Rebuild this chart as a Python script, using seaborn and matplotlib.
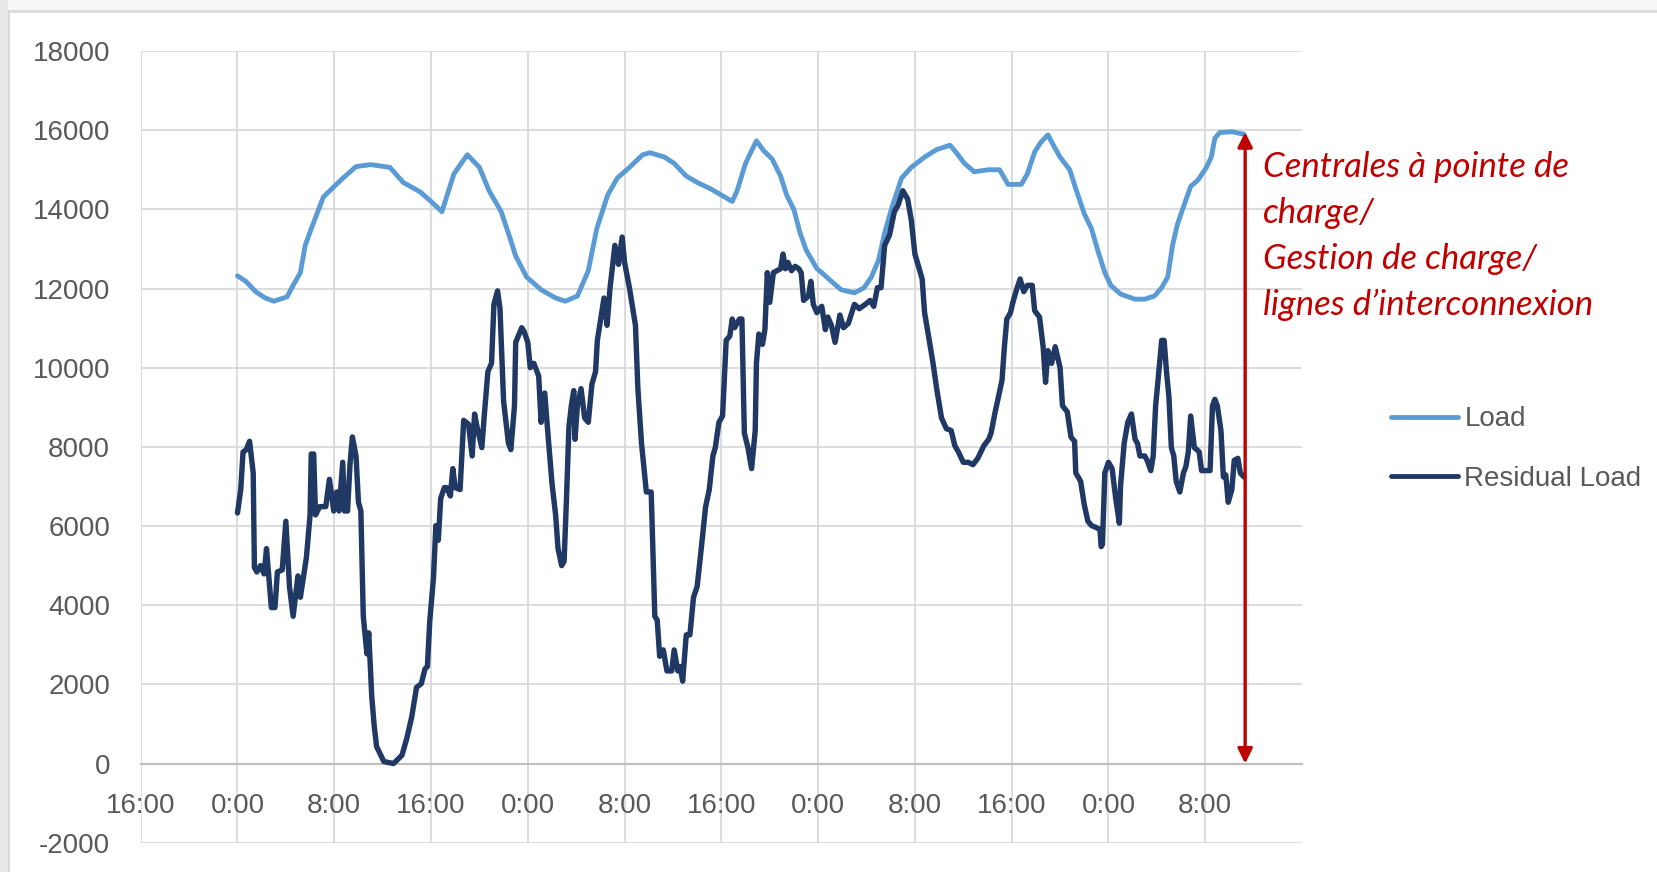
import numpy as np
import pandas as pd
import matplotlib
matplotlib.use("Agg")
import matplotlib.pyplot as plt
from matplotlib.patches import Rectangle
from matplotlib.lines import Line2D
import seaborn as sns

# ---------------- data ----------------
# hours counted from the first midnight (0:00) shown on the axis
load_hours = [0, 0.7, 1.5, 2.3, 3.0, 4.1, 4.6, 5.2, 5.6, 6.1, 6.7, 7.1, 8.0, 8.8, 9.8, 11.0,
              12.6, 13.7, 15.1, 16.0, 16.9, 17.9, 19.0, 20.0, 20.8, 21.8, 22.5, 23.0, 23.9,
              25.1, 26.3, 27.1, 28.1, 29.0, 29.7, 30.6, 31.4, 32.4, 33.5, 34.1, 35.3, 36.1,
              37.1, 38.0, 39.1, 40.0, 40.9, 41.3, 42.0, 42.5, 42.9, 43.5, 44.2, 44.9, 45.4,
              46.0, 46.5, 47.0, 47.9, 48.3, 49.1, 49.9, 51.0, 51.8, 52.4, 53.0, 53.5, 54.1,
              54.9, 55.7, 56.8, 57.8, 58.9, 59.3, 60.1, 60.9, 62.1, 63.0, 63.7, 64.8, 65.3,
              65.9, 66.4, 67.0, 67.5, 68.0, 68.8, 69.3, 70.0, 70.6, 71.1, 71.7, 72.2, 73.0,
              74.2, 75.0, 75.8, 76.4, 76.9, 77.3, 77.7, 78.3, 78.8, 79.4, 80.1, 80.5, 80.8,
              81.2, 82.2, 83.0, 83.2]
load_mw = [12320, 12180, 11920, 11760, 11680, 11790, 12080, 12400, 13090, 13510, 13990, 14310,
           14580, 14810, 15080, 15130, 15060, 14680, 14440, 14200, 13940, 14900, 15380, 15060,
           14470, 13940, 13300, 12820, 12290, 11970, 11760, 11680, 11810, 12450, 13510, 14360,
           14790, 15060, 15380, 15430, 15320, 15160, 14840, 14680, 14520, 14360, 14200, 14470,
           15160, 15480, 15730, 15480, 15270, 14840, 14360, 13990, 13410, 12980, 12500, 12400,
           12180, 11970, 11890, 12020, 12290, 12720, 13410, 14050, 14790, 15060, 15320, 15510,
           15620, 15480, 15160, 14950, 15000, 15000, 14630, 14630, 14900, 15450, 15690, 15880,
           15590, 15320, 15000, 14520, 13890, 13510, 12980, 12400, 12080, 11860, 11730, 11730,
           11810, 12020, 12290, 13090, 13620, 14150, 14580, 14740, 15060, 15320, 15800, 15940,
           15960, 15910, 15900]

resid_hours = [0, 0.27, 0.46, 0.73, 1.0, 1.3, 1.4, 1.6, 1.9, 2.2, 2.4, 2.8, 3.1, 3.3, 3.7, 4.0,
               4.3, 4.6, 5.0, 5.2, 5.7, 6.0, 6.1, 6.3, 6.45, 6.8, 7.3, 7.6, 7.96, 8.2, 8.4, 8.7,
               8.85, 9.1, 9.3, 9.5, 9.8, 10.0, 10.2, 10.4, 10.7, 10.85, 11.1, 11.3, 11.5, 12.1,
               12.9, 13.6, 14.0, 14.4, 14.8, 15.2, 15.5, 15.7, 15.9, 16.2, 16.4, 16.6, 16.8,
               17.1, 17.3, 17.6, 17.8, 18.0, 18.4, 18.7, 19.1, 19.4, 19.6, 19.8, 20.2, 20.4,
               20.7, 21.0, 21.2, 21.5, 21.7, 22.0, 22.4, 22.6, 22.9, 23.0, 23.5, 23.7, 24.0,
               24.2, 24.5, 24.9, 25.1, 25.4, 25.6, 26.0, 26.3, 26.5, 26.8, 27.0, 27.2, 27.4,
               27.6, 27.8, 27.9, 28.1, 28.4, 28.7, 29.0, 29.3, 29.6, 29.75, 30.0, 30.3, 30.55,
               30.8, 31.2, 31.5, 31.8, 32.0, 32.4, 32.9, 33.1, 33.4, 33.8, 34.2, 34.5, 34.7,
               34.9, 35.2, 35.5, 35.9, 36.1, 36.4, 36.6, 36.8, 37.1, 37.4, 37.7, 38.0, 38.3,
               38.7, 39.0, 39.3, 39.5, 39.8, 40.1, 40.4, 40.7, 40.9, 41.1, 41.5, 41.7, 41.9,
               42.2, 42.5, 42.8, 42.9, 43.1, 43.4, 43.6, 43.8, 44.0, 44.3, 44.6, 44.9, 45.1,
               45.3, 45.5, 45.8, 46.1, 46.4, 46.6, 46.8, 47.2, 47.4, 47.6, 47.9, 48.1, 48.3,
               48.6, 48.8, 49.1, 49.4, 49.8, 50.1, 50.5, 51.0, 51.4, 51.9, 52.3, 52.6, 52.9,
               53.2, 53.5, 53.9, 54.3, 54.6, 55.0, 55.4, 55.7, 56.0, 56.3, 56.6, 56.8, 57.1,
               57.5, 57.8, 58.2, 58.6, 59.0, 59.3, 59.6, 60.0, 60.4, 60.8, 61.2, 61.7, 62.1,
               62.3, 62.6, 62.9, 63.2, 63.4, 63.6, 63.9, 64.1, 64.4, 64.7, 65.0, 65.3, 65.7,
               65.9, 66.3, 66.6, 66.8, 67.0, 67.3, 67.6, 68.0, 68.2, 68.6, 68.9, 69.2, 69.3,
               69.7, 70.0, 70.3, 70.6, 71.0, 71.3, 71.4, 71.5, 71.7, 72.0, 72.3, 72.6, 72.9,
               73.0, 73.3, 73.6, 73.9, 74.2, 74.4, 74.6, 75.0, 75.2, 75.5, 75.7, 75.9, 76.1,
               76.4, 76.6, 76.8, 77.0, 77.2, 77.4, 77.6, 77.9, 78.2, 78.4, 78.6, 78.8, 79.1,
               79.3, 79.5, 79.7, 80.2, 80.4, 80.6, 80.8, 81.0, 81.3, 81.5, 81.7, 81.9, 82.2,
               82.4, 82.7, 82.9, 83.2]
resid_mw = [6330, 6920, 7870, 7930, 8140, 7340, 4950, 4840, 5000, 4790, 5430, 3940, 3940, 4840,
            4890, 6120, 4470, 3720, 4740, 4200, 5210, 6280, 7820, 7820, 6280, 6490, 6490, 7180,
            6380, 6860, 6380, 7610, 6380, 6380, 7550, 8250, 7770, 6600, 6380, 3720, 2770, 3300,
            1700, 960, 430, 50, 0, 210, 640, 1170, 1920, 2020, 2390, 2450, 3620, 4680, 6010,
            5640, 6700, 6970, 6970, 6760, 7450, 6970, 6920, 8670, 8570, 7770, 8830, 8510, 7980,
            8780, 9900, 10110, 11600, 11940, 11490, 9150, 8090, 7930, 9040, 10640, 11010, 10910,
            10640, 10000, 10110, 9790, 8620, 9360, 8570, 7080, 6280, 5430, 5000, 5110, 6700,
            8510, 9040, 9420, 8190, 9040, 9470, 8730, 8620, 9580, 9900, 10690, 11170, 11760,
            11070, 12020, 13090, 12610, 13300, 12660, 12020, 11070, 9470, 8090, 6860, 6860,
            3720, 3620, 2710, 2870, 2340, 2340, 2870, 2340, 2450, 2080, 3250, 3250, 4200, 4470,
            5320, 6490, 6920, 7770, 7980, 8620, 8780, 10690, 10800, 11230, 11010, 11230, 11230,
            8350, 7980, 7450, 8410, 10110, 10850, 10590, 10960, 12400, 11650, 12400, 12450,
            12500, 12870, 12500, 12660, 12450, 12560, 12500, 12400, 11700, 11810, 12180, 11600,
            11390, 11490, 11550, 10960, 11280, 11070, 10640, 11330, 11010, 11120, 11600, 11490,
            11600, 11700, 11550, 12020, 12020, 13090, 13350, 13940, 14100, 14470, 14260, 13730,
            12870, 12560, 12240, 11390, 10850, 10110, 9470, 8730, 8460, 8410, 8030, 7870, 7610,
            7610, 7550, 7710, 8030, 8190, 8350, 8830, 9260, 9680, 10530, 11230, 11390, 11650,
            11970, 12240, 11920, 12080, 12080, 11440, 11280, 10530, 9630, 10430, 10110, 10530,
            10000, 9040, 8880, 8250, 8140, 7340, 7130, 6540, 6120, 6010, 5960, 5910, 5480, 5530,
            7340, 7610, 7450, 6700, 6070, 7020, 8090, 8620, 8830, 8190, 8090, 7770, 7770, 7660,
            7400, 7770, 9040, 9680, 10690, 10690, 9900, 9260, 7980, 7770, 7130, 6860, 7340,
            7500, 7870, 8780, 7980, 7930, 7870, 7400, 7400, 7400, 9040, 9200, 9040, 8410, 7240,
            7290, 6600, 6920, 7660, 7710, 7340, 7240]

tick_labels = ["16:00", "0:00", "8:00", "16:00", "0:00", "8:00",
               "16:00", "0:00", "8:00", "16:00", "0:00", "8:00"]
y_ticks = list(range(-2000, 18001, 2000))
series_names = ["Load", "Residual Load"]
annotation_lines = ["Centrales à pointe de", "charge/", "Gestion de charge/",
                    "lignes d\u2019interconnexion"]
arrow_hour = 83.3
arrow_low, arrow_high = 0, 15950

# ---------------- styling ----------------
W, H = 1657, 872
sns.set_theme(style="whitegrid")
plt.rcParams["font.family"] = ["Liberation Sans", "DejaVu Sans"]

C_LOAD = "#5B9BD5"
C_RES = "#203864"
C_RED = "#C00000"
C_TXT = "#595959"
C_GRID = "#D9D9D9"

fig = plt.figure(figsize=(W / 100, H / 100), dpi=100)
fig.patch.set_facecolor("white")

# outer frame strips
fig.add_artist(Rectangle((0, 1 - 10 / H), 1, 10 / H, transform=fig.transFigure,
                         facecolor="#F7F7F7", edgecolor="none", zorder=0))
fig.add_artist(Rectangle((0, 0), 8 / W, 1, transform=fig.transFigure,
                         facecolor="#E9E9E9", edgecolor="none", zorder=0))
fig.add_artist(Line2D([8 / W, 1], [1 - 11 / H, 1 - 11 / H], transform=fig.transFigure,
                      color=C_GRID, lw=2))
fig.add_artist(Line2D([8.5 / W, 8.5 / W], [0, 1 - 11 / H], transform=fig.transFigure,
                      color=C_GRID, lw=1.5))

ax = fig.add_axes([140.7 / W, (H - 842.7) / H, (1302 - 140.7) / W, (842.7 - 51) / H])
ax.set_facecolor("white")

offset = 8  # axis starts at 16:00, 8 hours before the first midnight
df_load = pd.DataFrame({"h": np.array(load_hours) + offset, "v": load_mw})
df_res = pd.DataFrame({"h": np.array(resid_hours) + offset, "v": resid_mw})

sns.lineplot(data=df_load, x="h", y="v", ax=ax, color=C_LOAD, lw=3.5,
             estimator=None, sort=False, label=series_names[0], zorder=3)
sns.lineplot(data=df_res, x="h", y="v", ax=ax, color=C_RES, lw=3.9,
             estimator=None, sort=False, label=series_names[1], zorder=4)

ax.set_xlim(0, 96)
ax.set_ylim(-2000, 18000)
ax.set_xticks(np.arange(0, 89, 8))
ax.set_xticklabels(tick_labels)
ax.set_yticks(y_ticks)
ax.set_yticklabels([str(v) for v in y_ticks])
ax.set_xlabel("")
ax.set_ylabel("")

ax.grid(True, color=C_GRID, lw=1.3)
for s in ["left", "right", "top"]:
    ax.spines[s].set_visible(False)
ax.spines["bottom"].set_position(("data", 0))
ax.spines["bottom"].set_color("#BFBFBF")
ax.spines["bottom"].set_linewidth(1.6)
ax.spines["bottom"].set_zorder(2)

ax.tick_params(axis="both", length=0, labelsize=20, labelcolor=C_TXT)
ax.tick_params(axis="y", pad=22)
ax.tick_params(axis="x", pad=21)

# double arrow
ax.annotate("", xy=(arrow_hour + offset, arrow_high), xytext=(arrow_hour + offset, arrow_low),
            arrowprops=dict(arrowstyle="<|-|>", color=C_RED, lw=2.4, mutation_scale=22,
                            shrinkA=0, shrinkB=0), zorder=5)

# annotation text
baselines = [177, 223, 269, 315]
for line, yb in zip(annotation_lines, baselines):
    fig.text(1262.7 / W, (H - yb) / H, line, color=C_RED, fontsize=25, style="italic",
             family=["Lato", "DejaVu Sans"], va="baseline", ha="left")

# legend
leg = ax.legend(loc="center left", bbox_to_anchor=(1377 / W, (H - 449) / H),
                bbox_transform=fig.transFigure, frameon=False, fontsize=20,
                handlelength=2.4, handletextpad=0.25, labelspacing=1.2, borderpad=0)
for t in leg.get_texts():
    t.set_color(C_TXT)
for l in leg.get_lines():
    l.set_linewidth(3.5)

fig.savefig("out.png", dpi=100, facecolor=fig.get_facecolor())
